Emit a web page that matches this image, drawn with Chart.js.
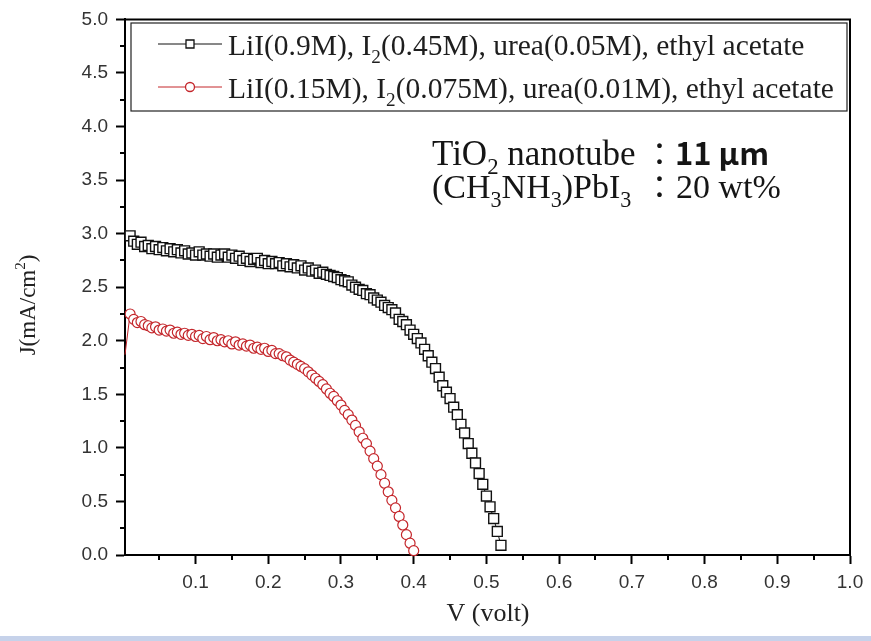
<!DOCTYPE html>
<html>
<head>
<meta charset="utf-8">
<script src="https://cdn.jsdelivr.net/npm/chart.js@4.4.1/dist/chart.umd.min.js"></script>
<style>
  html, body { margin: 0; padding: 0; background: #fff; }
  canvas { display: block; }
</style>
</head>
<body>
<canvas id="jv" width="871" height="641"></canvas>
<script>
// voltage sweep (V), shared by both curves
const volts = [
  0.010, 0.015, 0.020, 0.025, 0.030, 0.035, 0.040, 0.045, 0.050, 0.055,
  0.060, 0.065, 0.070, 0.075, 0.080, 0.085, 0.090, 0.095, 0.100, 0.105,
  0.110, 0.115, 0.120, 0.125, 0.130, 0.135, 0.140, 0.145, 0.150, 0.155,
  0.160, 0.165, 0.170, 0.175, 0.180, 0.185, 0.190, 0.195, 0.200, 0.205,
  0.210, 0.215, 0.220, 0.225, 0.230, 0.235, 0.240, 0.245, 0.250, 0.255,
  0.260, 0.265, 0.270, 0.275, 0.280, 0.285, 0.290, 0.295, 0.300, 0.305,
  0.310, 0.315, 0.320, 0.325, 0.330, 0.335, 0.340, 0.345, 0.350, 0.355,
  0.360, 0.365, 0.370, 0.375, 0.380, 0.385, 0.390, 0.395, 0.400, 0.405,
  0.410, 0.415, 0.420, 0.425, 0.430, 0.435, 0.440, 0.445, 0.450, 0.455,
  0.460, 0.465, 0.470, 0.475, 0.480, 0.485, 0.490, 0.495, 0.500, 0.505,
  0.510, 0.515, 0.520
];

// LiI(0.9M) electrolyte, J in mA/cm2
const currentBlack = [
  2.98, 2.93, 2.90, 2.92, 2.88, 2.89, 2.86, 2.88, 2.85, 2.87,
  2.84, 2.86, 2.83, 2.85, 2.82, 2.84, 2.81, 2.82, 2.80, 2.83,
  2.80, 2.81, 2.79, 2.81, 2.78, 2.80, 2.81, 2.78, 2.80, 2.77,
  2.79, 2.75, 2.77, 2.74, 2.76, 2.77, 2.73, 2.75, 2.72, 2.74,
  2.72, 2.73, 2.70, 2.72, 2.69, 2.71, 2.68, 2.70, 2.66, 2.68,
  2.65, 2.66, 2.63, 2.64, 2.62, 2.61, 2.60, 2.59, 2.57, 2.56,
  2.55, 2.52, 2.50, 2.48, 2.47, 2.44, 2.43, 2.40, 2.38, 2.36,
  2.33, 2.31, 2.29, 2.26, 2.20, 2.18, 2.15, 2.10, 2.06, 2.02,
  1.98, 1.92, 1.86, 1.80, 1.74, 1.66, 1.58, 1.52, 1.46, 1.38,
  1.31, 1.22, 1.14, 1.04, 0.95, 0.86, 0.76, 0.66, 0.55, 0.45,
  0.34, 0.22, 0.09
];

// LiI(0.15M) electrolyte, J in mA/cm2
const currentRed = [
  2.25, 2.20, 2.17, 2.18, 2.15, 2.14, 2.12, 2.13, 2.10, 2.11,
  2.09, 2.10, 2.07, 2.08, 2.06, 2.07, 2.05, 2.06, 2.04, 2.05,
  2.02, 2.04, 2.01, 2.03, 2.00, 2.01, 1.99, 2.00, 1.97, 1.99,
  1.96, 1.97, 1.95, 1.96, 1.93, 1.94, 1.92, 1.93, 1.90, 1.91,
  1.88, 1.88, 1.86, 1.85, 1.82, 1.80, 1.78, 1.76, 1.74, 1.71,
  1.68, 1.65, 1.62, 1.59, 1.55, 1.51, 1.48, 1.44, 1.40, 1.35,
  1.31, 1.26, 1.21, 1.15, 1.09, 1.04, 0.97, 0.90, 0.83, 0.75,
  0.67, 0.59, 0.51, 0.44, 0.36, 0.28, 0.19, 0.11, 0.04
];
// first red reading sits on the axis edge (line only, no marker)
const redLeadV = 0.003;
const redLeadJ = 1.87;

const xTicks = [0.1, 0.2, 0.3, 0.4, 0.5, 0.6, 0.7, 0.8, 0.9, 1.0];
const xMinor = [0.05, 0.15, 0.25, 0.35, 0.45, 0.55, 0.65, 0.75, 0.85, 0.95];
const yTicks = [0, 0.5, 1.0, 1.5, 2.0, 2.5, 3.0, 3.5, 4.0, 4.5, 5.0];
const yMinor = [0.25, 0.75, 1.25, 1.75, 2.25, 2.75, 3.25, 3.75, 4.25, 4.75];

const legendLabels = [
  [{ t: 'LiI(0.9M), I' }, { t: '2', sub: true }, { t: '(0.45M), urea(0.05M), ethyl acetate' }],
  [{ t: 'LiI(0.15M), I' }, { t: '2', sub: true }, { t: '(0.075M), urea(0.01M), ethyl acetate' }],
];

const BLACK = '#111111';
const RED = '#c4262b';
const SERIF = '"Liberation Serif", "Times New Roman", serif';
const SANS = '"Liberation Sans", Arial, sans-serif';
const CJK = '"Noto Sans CJK TC", "Noto Sans CJK SC", sans-serif';

function drawRich(ctx, x, y, parts, size, family) {
  let cx = x;
  for (const p of parts) {
    const fs = (p.sub || p.sup) ? size * 0.65 : size;
    ctx.font = `${p.weight || 'normal'} ${fs}px ${p.family || family}`;
    const dy = p.sub ? size * 0.26 : p.sup ? -size * 0.42 : 0;
    ctx.fillText(p.t, cx, y + dy);
    cx += ctx.measureText(p.t).width;
  }
  return cx;
}

function richWidth(ctx, parts, size, family) {
  let w = 0;
  for (const p of parts) {
    const fs = (p.sub || p.sup) ? size * 0.65 : size;
    ctx.font = `${p.weight || 'normal'} ${fs}px ${p.family || family}`;
    w += ctx.measureText(p.t).width;
  }
  return w;
}

const decorPlugin = {
  id: 'decor',
  beforeDraw(chart) {
    const { ctx } = chart;
    ctx.save();
    ctx.fillStyle = '#fff';
    ctx.fillRect(0, 0, chart.width, chart.height);
    // faint blue strip from the scanned page
    ctx.fillStyle = '#c6d2ea';
    ctx.fillRect(0, 636, chart.width, 5);
    ctx.restore();
  },
  afterDraw(chart) {
    const { ctx, chartArea: a, scales } = chart;
    const sx = scales.x, sy = scales.y;
    ctx.save();

    // frame top/right
    ctx.strokeStyle = '#000';
    ctx.lineWidth = 2;
    ctx.beginPath();
    ctx.moveTo(a.left, a.top);
    ctx.lineTo(a.right, a.top);
    ctx.lineTo(a.right, a.bottom);
    ctx.stroke();

    // minor ticks
    ctx.lineWidth = 2;
    ctx.beginPath();
    xMinor.forEach((v) => {
      const px = Math.round(sx.getPixelForValue(v));
      ctx.moveTo(px, a.bottom);
      ctx.lineTo(px, a.bottom + 5);
    });
    yMinor.forEach((v) => {
      const py = Math.round(sy.getPixelForValue(v));
      ctx.moveTo(a.left - 5, py);
      ctx.lineTo(a.left, py);
    });
    ctx.stroke();

    // legend box
    ctx.lineWidth = 1.2;
    ctx.strokeStyle = '#222';
    ctx.strokeRect(131, 23, 716, 88);
    const rows = [
      { y: 44, color: BLACK, style: 'rect' },
      { y: 87, color: RED, style: 'circle' },
    ];
    rows.forEach((r, i) => {
      ctx.strokeStyle = r.color;
      ctx.lineWidth = 1;
      ctx.beginPath();
      ctx.moveTo(158, r.y);
      ctx.lineTo(222, r.y);
      ctx.stroke();
      ctx.fillStyle = '#fff';
      ctx.lineWidth = 1.3;
      ctx.beginPath();
      if (r.style === 'rect') ctx.rect(186, r.y - 4, 8, 8);
      else ctx.arc(190, r.y, 4.5, 0, Math.PI * 2);
      ctx.fill();
      ctx.stroke();
      ctx.fillStyle = '#1e1e1e';
      ctx.textBaseline = 'alphabetic';
      ctx.textAlign = 'left';
      drawRich(ctx, 228, r.y + 11, legendLabels[i], 29.5, SERIF);
    });

    // sample annotation
    ctx.fillStyle = '#151515';
    drawRich(ctx, 432, 165, [{ t: 'TiO' }, { t: '2', sub: true }, { t: ' nanotube' }], 35, SERIF);
    drawRich(ctx, 644, 165, [{ t: '：', family: CJK }, { t: '11 μm', family: CJK, weight: 'bold' }], 31, SERIF);
    drawRich(ctx, 432, 198, [{ t: '(CH' }, { t: '3', sub: true }, { t: 'NH' }, { t: '3', sub: true },
      { t: ')PbI' }, { t: '3', sub: true }], 34, SERIF);
    drawRich(ctx, 644, 198, [{ t: '：', family: CJK }], 31, SERIF);
    drawRich(ctx, 676, 198, [{ t: '20 wt%' }], 34, SERIF);

    // axis titles
    ctx.fillStyle = '#222';
    ctx.font = `26px ${SERIF}`;
    ctx.textAlign = 'center';
    ctx.fillText('V (volt)', 488, 621);

    const yTitle = [{ t: 'J(mA/cm' }, { t: '2', sup: true }, { t: ')' }];
    const w = richWidth(ctx, yTitle, 23, SERIF);
    ctx.translate(35, 305);
    ctx.rotate(-Math.PI / 2);
    ctx.textAlign = 'left';
    drawRich(ctx, -w / 2, 0, yTitle, 23, SERIF);

    ctx.restore();
  },
};

const blackData = volts.map((v, i) => ({ x: v, y: currentBlack[i] }));
const redData = [{ x: redLeadV, y: redLeadJ }].concat(
  currentRed.map((j, i) => ({ x: volts[i], y: j }))
);

new Chart(document.getElementById('jv'), {
  type: 'line',
  data: {
    datasets: [
      {
        label: 'LiI(0.9M)',
        data: blackData,
        borderColor: BLACK,
        borderWidth: 1,
        pointStyle: 'rect',
        pointRadius: 7,
        pointBorderWidth: 1.4,
        pointBackgroundColor: '#fff',
        pointBorderColor: BLACK,
        clip: false,
      },
      {
        label: 'LiI(0.15M)',
        data: redData,
        borderColor: RED,
        borderWidth: 1,
        pointStyle: 'circle',
        pointRadius: (c) => (c.dataIndex === 0 ? 0 : 5),
        pointBorderWidth: 1.2,
        pointBackgroundColor: '#fff',
        pointBorderColor: RED,
        clip: false,
      },
    ],
  },
  options: {
    responsive: false,
    devicePixelRatio: 1,
    animation: false,
    layout: { padding: { top: 16, right: 21, left: 0, bottom: 0 } },
    plugins: { legend: { display: false }, tooltip: { enabled: false } },
    scales: {
      x: {
        type: 'linear',
        min: 0.003,
        max: 1.0,
        afterBuildTicks: (s) => { s.ticks = xTicks.map((v) => ({ value: v })); },
        afterFit: (s) => { s.height = 86; },
        ticks: {
          font: { family: SANS, size: 19 },
          color: '#333',
          padding: 7,
          maxRotation: 0,
          autoSkip: false,
          callback: (v) => Number(v).toFixed(1),
        },
        grid: { display: true, drawOnChartArea: false, drawTicks: true, tickLength: 9, tickWidth: 2, tickColor: '#000' },
        border: { display: true, color: '#000', width: 2 },
      },
      y: {
        type: 'linear',
        min: 0,
        max: 5,
        afterBuildTicks: (s) => { s.ticks = yTicks.map((v) => ({ value: v })); },
        afterFit: (s) => { s.width = 125; },
        ticks: {
          font: { family: SANS, size: 19 },
          color: '#333',
          padding: 8,
          autoSkip: false,
          callback: (v) => Number(v).toFixed(1),
        },
        grid: { display: true, drawOnChartArea: false, drawTicks: true, tickLength: 9, tickWidth: 2, tickColor: '#000' },
        border: { display: true, color: '#000', width: 2 },
      },
    },
  },
  plugins: [decorPlugin],
});
</script>
</body>
</html>
